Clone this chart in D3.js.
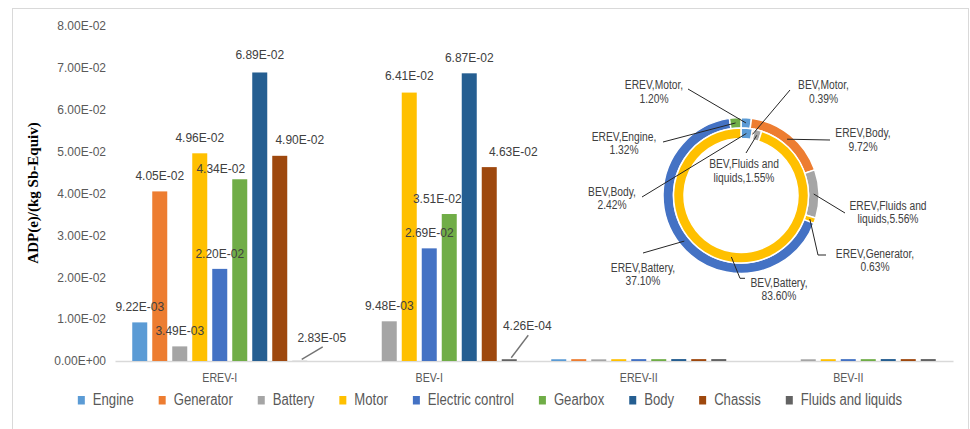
<!DOCTYPE html>
<html>
<head>
<meta charset="utf-8">
<script src="https://cdn.jsdelivr.net/npm/d3@7"></script>
<style>
  html, body { margin: 0; padding: 0; background: #fff; }
  svg { display: block; }
</style>
</head>
<body>
<svg id="chart" width="970" height="429"></svg>
<script>
// ---- Data ----------------------------------------------------------------
const categories = ["EREV-I", "BEV-I", "EREV-II", "BEV-II"];
const components = ["Engine", "Generator", "Battery", "Motor", "Electric control",
                    "Gearbox", "Body", "Chassis", "Fluids and liquids"];
const seriesColors = ["#5B9BD5", "#ED7D31", "#A5A5A5", "#FFC000", "#4472C4",
                      "#70AD47", "#255E91", "#9E480E", "#636363"];

// ADP(e) per component, kg Sb-equiv
const erevI  = [9.22e-3, 4.05e-2, 3.49e-3, 4.96e-2, 2.20e-2, 4.34e-2, 6.89e-2, 4.90e-2, 2.83e-5];
const bevI   = [0, 0, 9.48e-3, 6.41e-2, 2.69e-2, 3.51e-2, 6.87e-2, 4.63e-2, 4.26e-4];
const erevII = [4.2e-4, 4.4e-4, 4.0e-4, 4.3e-4, 4.5e-4, 4.4e-4, 4.6e-4, 4.5e-4, 4.6e-4];
const bevII  = [0, 0, 4.1e-4, 4.3e-4, 4.5e-4, 4.4e-4, 4.6e-4, 4.5e-4, 4.6e-4];
const labelledCategories = ["EREV-I", "BEV-I"];

const yTicks = [0, 0.01, 0.02, 0.03, 0.04, 0.05, 0.06, 0.07, 0.08];
const yTitle = "ADP(e)/(kg Sb-Equiv)";

// share of ADP(e), two rings
const ringOuterName = "EREV";
const ringOuterCats = ["Motor", "Body", "Fluids and liquids", "Generator", "Battery", "Engine"];
const ringOuterPct  = [1.20, 9.72, 5.56, 0.63, 37.10, 1.32];
const ringInnerName = "BEV";
const ringInnerCats = ["Body", "Motor", "Fluids and liquids", "Battery"];
const ringInnerPct  = [2.42, 0.39, 1.55, 83.60];
const ringColors = ["#5B9BD5", "#ED7D31", "#A5A5A5", "#FFC000", "#4472C4", "#70AD47"];

// ---- Layout ----------------------------------------------------------------
const values = { "EREV-I": erevI, "BEV-I": bevI, "EREV-II": erevII, "BEV-II": bevII };
const svg = d3.select("#chart");
const W = 970, H = 429;
const plot = { left: 115, right: 953, top: 26, bottom: 361 };
const sans = '"Liberation Sans", Arial, sans-serif';
const NARROW = 0.82; // horizontal squeeze for the condensed captions

// squeeze a text element horizontally, keeping its anchor
function condense(sel) {
  sel.each(function () {
    const w = this.getComputedTextLength();
    d3.select(this).attr("textLength", w * NARROW).attr("lengthAdjust", "spacingAndGlyphs");
  });
  return sel;
}

// moved data labels: [dx, dy, leader]
const labelShift = {
  "EREV-I|Gearbox": [-19, 5, false],
  "EREV-I|Chassis": [20, -1, false],
  "EREV-I|Body": [0, -2, false],
  "EREV-I|Fluids and liquids": [22, -8, true],
  "BEV-I|Gearbox": [-12, 0, false],
  "BEV-I|Chassis": [24, 0, false],
  "BEV-I|Motor": [0, -2, false],
  "BEV-I|Fluids and liquids": [18, -18, true]
};

svg.append("rect").attr("width", W).attr("height", H).attr("fill", "#fff");
svg.append("rect")
  .attr("x", 12.5).attr("y", 8.5).attr("width", 956).attr("height", 440)
  .attr("fill", "none").attr("stroke", "#D9D9D9").attr("stroke-width", 1);

const y = d3.scaleLinear().domain([0, 0.08]).range([plot.bottom, plot.top]);
const x0 = d3.scaleBand().domain(categories).range([plot.left, plot.right]);
const x1 = d3.scaleBand().domain(components).range([0, x0.bandwidth()])
  .paddingInner(0.25).paddingOuter(0.8625);
const color = d3.scaleOrdinal().domain(components).range(seriesColors);

function sci(v) {
  if (v === 0) return "0.00E+00";
  const e = Math.floor(Math.log10(Math.abs(v)) + 1e-12);
  let mStr = (v / Math.pow(10, e)).toFixed(2);
  let ex = e;
  if (parseFloat(mStr) >= 10) { ex += 1; mStr = (v / Math.pow(10, ex)).toFixed(2); }
  const sign = ex < 0 ? "-" : "+";
  return mStr + "E" + sign + String(Math.abs(ex)).padStart(2, "0");
}

// y axis (labels only)
const yAxis = d3.axisLeft(y).tickValues(yTicks).tickFormat(sci).tickSize(0).tickPadding(0);
const gy = svg.append("g").attr("transform", `translate(106,0)`).call(yAxis);
gy.select(".domain").remove();
gy.selectAll("text").attr("font-family", sans).attr("font-size", 12).attr("fill", "#595959");

// y title
svg.append("text")
  .attr("transform", `translate(38,193) rotate(-90)`)
  .attr("text-anchor", "middle")
  .attr("font-family", '"Liberation Serif", "Times New Roman", serif')
  .attr("font-weight", "bold").attr("font-size", 15).attr("fill", "#000")
  .text(yTitle);

// x axis
const xAxis = d3.axisBottom(x0).tickSize(0).tickPadding(0);
const gx = svg.append("g").attr("transform", `translate(0,${plot.bottom})`).call(xAxis);
gx.select(".domain").attr("stroke", "#D9D9D9").attr("stroke-width", 1.3);
condense(gx.selectAll("text").attr("font-family", sans).attr("font-size", 13)
  .attr("fill", "#595959").attr("dy", null).attr("y", 21));

// bars
const rows = [];
categories.forEach(c => components.forEach((k, i) => rows.push({ cat: c, comp: k, v: values[c][i] })));
svg.append("g").selectAll("rect")
  .data(rows.filter(d => d.v > 0))
  .join("rect")
  .attr("x", d => x0(d.cat) + x1(d.comp))
  .attr("y", d => y(d.v))
  .attr("width", x1.bandwidth())
  .attr("height", d => y(0) - y(d.v))
  .attr("fill", d => color(d.comp));

// data labels, with leader lines for the ones moved far from their bar
const labelled = rows.filter(d => d.v > 0 && labelledCategories.includes(d.cat)).map(d => {
  const s = labelShift[d.cat + "|" + d.comp] || [0, 0, false];
  const cx = x0(d.cat) + x1(d.comp) + x1.bandwidth() / 2;
  return { ...d, cx, tx: cx + s[0], ty: y(d.v) - 11 + s[1], leader: s[2] };
});
svg.append("g").selectAll("line")
  .data(labelled.filter(d => d.leader))
  .join("line")
  .attr("x1", d => d.tx + 1).attr("y1", d => d.ty + 5)
  .attr("x2", d => d.cx + 2).attr("y2", d => y(d.v) - 1.5)
  .style("stroke", "#737373").style("stroke-width", "1.4px");
svg.append("g").selectAll("text")
  .data(labelled)
  .join("text")
  .attr("x", d => d.tx).attr("y", d => d.ty)
  .attr("text-anchor", "middle")
  .attr("font-family", sans).attr("font-size", 12).attr("fill", "#404040")
  .text(d => sci(d.v));

// legend
const legend = svg.append("g");
let lx = 0;
components.forEach((k, i) => {
  const g = legend.append("g").attr("transform", `translate(${lx},0)`);
  g.append("rect").attr("x", 0).attr("y", 396).attr("width", 7).attr("height", 8.5).attr("fill", seriesColors[i]);
  const t = g.append("text").attr("x", 15).attr("y", 405)
    .attr("font-family", sans).attr("font-size", 16).attr("fill", "#595959").text(k);
  condense(t);
  lx += 15 + +t.attr("textLength") + 25;
});
const legendW = lx - 25;
legend.attr("transform", `translate(${490 - legendW / 2},0)`);

// ---- Doughnut ----------------------------------------------------------------
const dc = { x: 741, y: 195.5 };
const donut = svg.append("g").attr("transform", `translate(${dc.x},${dc.y})`);
const pie = d3.pie().sort(null).value(d => d);
const outerArc = d3.arc().innerRadius(67.5).outerRadius(78);
const innerArc = d3.arc().innerRadius(57).outerRadius(67.5);
const outerSlices = pie(ringOuterPct);
const innerSlices = pie(ringInnerPct);

donut.append("g").selectAll("path").data(outerSlices).join("path")
  .attr("d", outerArc).attr("fill", (d, i) => ringColors[i])
  .attr("stroke", "#fff").attr("stroke-width", 1.5);
donut.append("g").selectAll("path").data(innerSlices).join("path")
  .attr("d", innerArc).attr("fill", (d, i) => ringColors[i])
  .attr("stroke", "#fff").attr("stroke-width", 1.5);

// label placement relative to doughnut centre: text [x, y], leader end [x, y], optional elbow
const outerLabelPos = [
  { t: [-87, -106.2], a: [-53, -106.5] },
  { t: [122, -58.2], a: [89, -55.5] },
  { t: [147, 14.5], a: [104, 17.5] },
  { t: [134, 62.2], a: [85, 59.5], e: [77, 59.5] },
  { t: [-98, 76.2], a: [-98, 57.5] },
  { t: [-117, -54.8], a: [-78, -53.5] }
];
const innerLabelPos = [
  { t: [-129, 0.5], a: [-99, 1.5] },
  { t: [82.5, -106.2], a: [49, -105.5] },
  { t: [3, -27.2], a: [5, -42.5] },
  { t: [38, 91.2], a: [4, 82.8], e: [-1, 82.8] }
];

function wrapLabel(ring, cat, pct) {
  const p = pct.toFixed(2) + "%";
  const sp = cat.lastIndexOf(" ");
  if (sp > 0) return [ring + "," + cat.slice(0, sp), cat.slice(sp + 1) + "," + p];
  return [ring + "," + cat + ",", p];
}

function drawRingLabels(slices, arc, cats, pcts, ring, pos) {
  slices.forEach((s, i) => {
    const P = pos[i];
    const pts = [arc.centroid(s)];
    if (P.e) pts.push(P.e);
    pts.push(P.a);
    donut.append("path")
      .attr("d", d3.line()(pts))
      .attr("fill", "none").attr("stroke", "#262626").attr("stroke-width", 1);
    wrapLabel(ring, cats[i], pcts[i]).forEach((ln, j) => {
      condense(donut.append("text")
        .attr("x", P.t[0]).attr("y", P.t[1] + j * 13.3)
        .attr("text-anchor", "middle")
        .attr("font-family", sans).attr("font-size", 12.5).attr("fill", "#404040")
        .text(ln));
    });
  });
}
drawRingLabels(outerSlices, outerArc, ringOuterCats, ringOuterPct, ringOuterName, outerLabelPos);
drawRingLabels(innerSlices, innerArc, ringInnerCats, ringInnerPct, ringInnerName, innerLabelPos);
</script>
</body>
</html>
